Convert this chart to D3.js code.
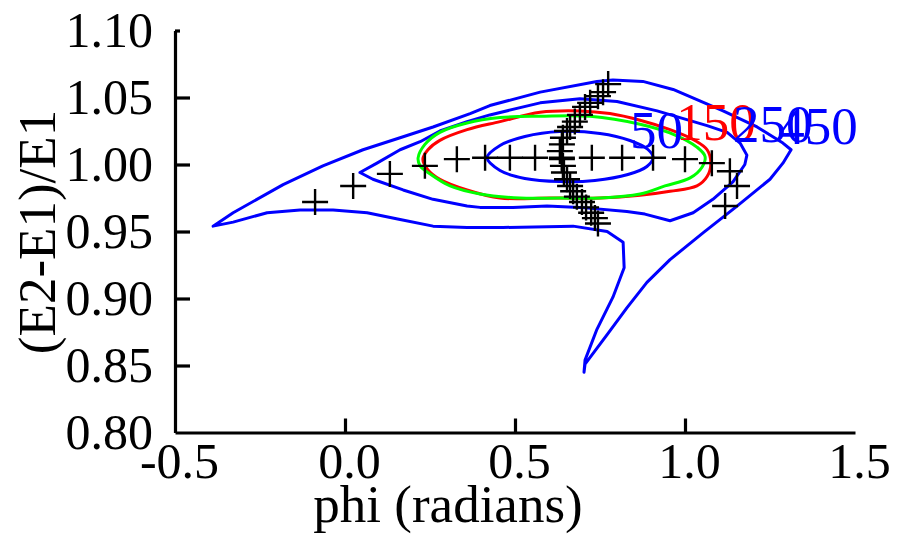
<!DOCTYPE html>
<html><head><meta charset="utf-8">
<script src="https://cdn.jsdelivr.net/npm/d3@7"></script>
<style>
html,body{margin:0;padding:0;background:#fff;}
svg{display:block;}
text{font-family:"Liberation Serif","Times New Roman",serif;}
</style></head>
<body>
<svg id="chart" width="915" height="545"></svg>
<script>
// ---- data ----
const xTickValues = [-0.5, 0.0, 0.5, 1.0, 1.5];
const yTickValues = [0.80, 0.85, 0.90, 0.95, 1.00, 1.05, 1.10];
const xTitle = "phi (radians)";
const yTitle = "(E2-E1)/E1";

// crosses (phi, ratio)
const crossPhi = [-0.088,0.024,0.132,0.235,0.329,0.412,0.485,0.559,0.638,0.726,0.815,0.906,1.000,1.079,1.132,1.153,1.118,
  0.774,0.759,0.744,0.721,0.706,0.691,0.676,0.662,0.653,0.641,0.638,0.632,0.638,0.641,0.644,0.653,0.662,0.671,0.682,0.697,0.709,0.724,0.735,0.744];
const crossRatio = [0.972,0.984,0.993,0.999,1.004,1.005,1.005,1.005,1.005,1.005,1.005,1.005,1.004,1.001,0.995,0.984,0.969,
  1.060,1.054,1.051,1.046,1.043,1.037,1.032,1.028,1.025,1.020,1.015,1.010,1.004,0.999,0.994,0.989,0.984,0.980,0.976,0.972,0.968,0.964,0.960,0.956];

// contour level 450 (outer, blue)
const c450Phi = [-0.388,-0.329,-0.182,-0.065,0.053,0.162,0.259,0.368,0.426,0.574,0.741,0.788,0.876,0.965,1.112,1.212,1.288,1.312,1.288,1.250,1.153,1.053,0.956,0.888,0.829,0.771,0.706,0.703,0.706,0.741,0.788,0.821,0.818,0.771,0.671,0.465,0.359,0.259,0.162,0.065,-0.035,-0.132,-0.229,-0.329];
const c450Ratio = [0.954,0.964,0.985,0.999,1.011,1.020,1.028,1.038,1.044,1.054,1.062,1.063,1.062,1.056,1.040,1.028,1.016,1.011,1.001,0.989,0.969,0.949,0.929,0.912,0.893,0.873,0.851,0.845,0.854,0.877,0.901,0.923,0.942,0.950,0.954,0.953,0.953,0.954,0.959,0.964,0.966,0.966,0.964,0.957];

// contour level 250 (blue)
const c250Phi = [0.044,0.094,0.162,0.221,0.279,0.359,0.426,0.574,0.691,0.800,0.918,1.065,1.124,1.162,1.182,1.176,1.141,1.082,1.024,0.956,0.882,0.829,0.691,0.594,0.494,0.397,0.359,0.259,0.171,0.082];
const c250Ratio = [0.994,1.001,1.011,1.017,1.025,1.032,1.037,1.046,1.049,1.047,1.040,1.029,1.024,1.016,1.007,1.000,0.987,0.974,0.964,0.958,0.963,0.965,0.968,0.969,0.968,0.968,0.969,0.974,0.981,0.989];

// contour level 150 (red)
const c150Phi = [0.229,0.244,0.279,0.359,0.456,0.574,0.691,0.779,0.868,0.956,1.029,1.065,1.076,1.065,1.035,0.956,0.868,0.750,0.603,0.456,0.359,0.279,0.244];
const c150Ratio = [1.004,1.011,1.018,1.026,1.032,1.039,1.040,1.038,1.033,1.026,1.018,1.011,1.001,0.991,0.984,0.980,0.977,0.975,0.975,0.975,0.981,0.989,0.996];

// fitted ellipse (green)
const fitPhi = [0.215,0.235,0.279,0.359,0.456,0.574,0.721,0.868,0.971,1.035,1.059,1.050,1.015,0.941,0.868,0.750,0.632,0.515,0.397,0.309,0.250,0.221];
const fitRatio = [1.005,1.015,1.024,1.031,1.035,1.036,1.036,1.030,1.022,1.013,1.006,0.998,0.990,0.984,0.978,0.975,0.975,0.975,0.978,0.984,0.993,0.999];

// contour level 50 (inner, blue)
const c50Phi = [0.418,0.456,0.529,0.632,0.750,0.838,0.891,0.906,0.888,0.832,0.735,0.632,0.529,0.456];
const c50Ratio = [1.0052,1.0142,1.0209,1.0246,1.0231,1.0179,1.0112,1.0052,0.9985,0.9925,0.9881,0.9873,0.9896,0.9955];

// contour labels
const labelText = ["50","150","250","450"];
const labelPhi = [0.838,0.974,1.141,1.274];
const labelRatio = [1.0124,1.0180,1.0168,1.0150];
const labelColor = ["#0000ff","#ff0000","#0000ff","#0000ff"];

// ---- chart ----
const svg = d3.select("#chart");
const x = d3.scaleLinear().domain([-0.5, 1.5]).range([175, 855]);
const y = d3.scaleLinear().domain([0.80, 1.10]).range([432.5, 30.5]);

const zip = (a, b) => a.map((v, i) => [v, b[i]]);
const lineLin = d3.line().x(d => x(d[0])).y(d => y(d[1])).curve(d3.curveLinearClosed);
const lineSmooth = d3.line().x(d => x(d[0])).y(d => y(d[1])).curve(d3.curveCatmullRomClosed.alpha(0.5));

const contours = [
  {pts: zip(c450Phi, c450Ratio), color: "#0000ff", gen: lineLin},
  {pts: zip(c250Phi, c250Ratio), color: "#0000ff", gen: lineLin},
  {pts: zip(c150Phi, c150Ratio), color: "#ff0000", gen: lineSmooth},
  {pts: zip(fitPhi, fitRatio), color: "#00ff00", gen: lineSmooth},
  {pts: zip(c50Phi, c50Ratio), color: "#0000ff", gen: lineSmooth}
];

svg.append("g").selectAll("path").data(contours).join("path")
  .attr("d", d => d.gen(d.pts))
  .attr("fill", "none")
  .attr("stroke", d => d.color)
  .attr("stroke-width", 3)
  .attr("stroke-linejoin", "round");

// labels
svg.append("g").selectAll("text").data(labelText).join("text")
  .attr("x", (d, i) => x(labelPhi[i]))
  .attr("y", (d, i) => y(labelRatio[i]))
  .attr("fill", (d, i) => labelColor[i])
  .attr("font-size", 53)
  .text(d => d);

// crosses
svg.append("g").selectAll("path").data(zip(crossPhi, crossRatio)).join("path")
  .attr("transform", d => `translate(${x(d[0])},${y(d[1])})`)
  .attr("d", "M-13,0H13M0,-13V13")
  .attr("stroke", "#000")
  .attr("stroke-width", 2.4)
  .attr("fill", "none");

// axes
const xAxis = d3.axisBottom(x).tickValues(xTickValues).tickFormat(d => d.toFixed(1))
  .tickSize(-14).tickSizeOuter(0).tickPadding(10);
const gx = svg.append("g").attr("transform", "translate(0,432.5)").call(xAxis);
gx.selectAll(".tick text").attr("font-size", 50).attr("fill", "#000")
  .attr("font-family", '"Liberation Serif", serif').attr("dx", 4);
gx.selectAll(".tick").filter(d => d === -0.5 || d === 1.5).select("line").remove();

const yAxis = d3.axisLeft(y).tickValues(yTickValues).tickFormat(d => d.toFixed(2))
  .tickSize(-15).tickSizeOuter(0).tickPadding(22);
const gy = svg.append("g").attr("transform", "translate(175,0)").call(yAxis);
gy.selectAll(".tick text").attr("font-size", 50).attr("fill", "#000")
  .attr("font-family", '"Liberation Serif", serif').attr("dy", "0.32em");
gy.selectAll(".tick").filter(d => d === 0.80).select("line").remove();
gy.selectAll(".tick").filter(d => d === 1.10).select("line").attr("x2", 5);

[gx, gy].forEach(g => {
  g.select(".domain").attr("stroke", "#000").attr("stroke-width", 3.2);
  g.selectAll(".tick line").attr("stroke", "#000").attr("stroke-width", 3.2);
});

// titles
svg.append("text").attr("x", 448).attr("y", 522).attr("text-anchor", "middle")
  .attr("font-size", 53).attr("fill", "#000").text(xTitle);
svg.append("text").attr("transform", "translate(55,232) rotate(-90)").attr("text-anchor", "middle")
  .attr("font-size", 53).attr("fill", "#000").text(yTitle);
</script>
</body></html>
